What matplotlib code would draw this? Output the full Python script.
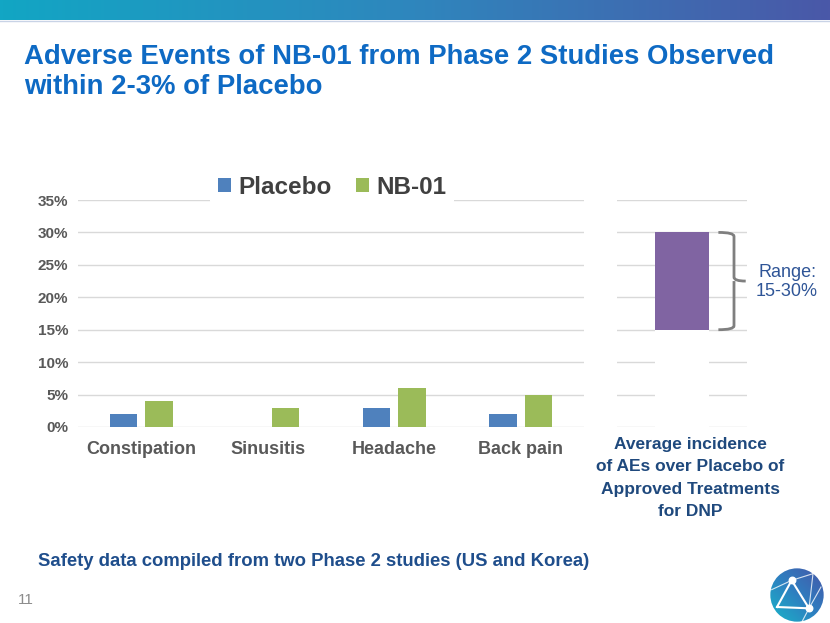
import numpy as np
import matplotlib
matplotlib.use('Agg')
import matplotlib.pyplot as plt
from matplotlib.colors import LinearSegmentedColormap
from matplotlib.path import Path
from matplotlib.patches import PathPatch, Circle
from matplotlib.transforms import blended_transform_factory

# data
categories = ['Constipation', 'Sinusitis', 'Headache', 'Back pain']
placebo = [0.02, 0.0, 0.03, 0.02]
nb01 = [0.04, 0.03, 0.06, 0.05]
range_low = 0.15
range_high = 0.30
yticks = [0, 0.05, 0.10, 0.15, 0.20, 0.25, 0.30, 0.35]
ytick_labels = ['0%', '5%', '10%', '15%', '20%', '25%', '30%', '35%']

W, H = 830, 623
plt.rcParams['font.family'] = ['Liberation Sans', 'DejaVu Sans']
fig = plt.figure(figsize=(W / 100, H / 100), dpi=100)


def px(x0, y0, x1, y1):
    """pixel box -> figure fraction rect"""
    return [x0 / W, 1 - y1 / H, (x1 - x0) / W, (y1 - y0) / H]


# top banner
ban = fig.add_axes(px(0, 0, W, 20))
cmap = LinearSegmentedColormap.from_list('ban', ['#12A6C4', '#2F86BD', '#4A58A8'])
ban.imshow(np.linspace(0, 1, 256)[None, :], aspect='auto', cmap=cmap)
ban.axis('off')
fig.add_artist(plt.Line2D([0, 1], [1 - 21 / H, 1 - 21 / H], color='#C9D3E6', lw=1))

# title
title_lines = ['Adverse Events of NB-01 from Phase 2 Studies Observed', 'within 2-3% of Placebo']
for i, line in enumerate(title_lines):
    fig.text(24 / W, 1 - (57 + 30 * i) / H, line, ha='left', va='center',
             fontsize=19.8, fontweight='bold', color='#0E6AC4')

# main chart
grey = '#595959'
ax = fig.add_axes(px(78, 200, 584, 427))
x = np.arange(len(categories))
bw = 0.22
ax.bar(x - 0.14, placebo, bw, color='#4F81BD', label='Placebo', zorder=3)
ax.bar(x + 0.14, nb01, bw, color='#9BBB59', label='NB-01', zorder=3)
ax.set_xlim(-0.5, len(categories) - 0.5)
ax.set_ylim(0, 0.35)
ax.set_yticks(yticks)
ax.set_yticklabels(ytick_labels)
ax.set_xticks(x)
ax.set_xticklabels(categories)
ax.yaxis.grid(True, color='#D9D9D9', lw=1, zorder=0)
ax.set_axisbelow(True)
for s in ax.spines.values():
    s.set_visible(False)
ax.tick_params(length=0)
ax.tick_params(axis='y', pad=7, labelsize=11, labelcolor=grey)
ax.tick_params(axis='x', pad=10, labelsize=13, labelcolor=grey)
for lab in ax.get_xticklabels() + ax.get_yticklabels():
    lab.set_fontweight('bold')
leg = ax.legend(loc='center', bbox_to_anchor=((332 - 78) / 506, (427 - 187) / 227), ncol=2,
                frameon=True, framealpha=1, facecolor='white', edgecolor='none',
                prop={'weight': 'bold', 'size': 17.5}, handlelength=0.55, handleheight=0.55,
                handletextpad=0.3, columnspacing=1.0, borderpad=0.3)
for t in leg.get_texts():
    t.set_color('#404040')

# right panel
ax2 = fig.add_axes(px(617, 200, 747, 427))
ax2.set_xlim(-0.5, 0.5)
ax2.set_ylim(0, 0.35)
ax2.set_yticks(yticks)
ax2.yaxis.grid(True, color='#D9D9D9', lw=1, zorder=0)
ax2.set_axisbelow(True)
ax2.bar([0], [range_low], 0.41, color='white', zorder=2)
ax2.bar([0], [range_high - range_low], 0.41, bottom=[range_low], color='#8064A2', zorder=3)
ax2.set_xticks([])
ax2.tick_params(length=0, labelleft=False)
for s in ax2.spines.values():
    s.set_visible(False)

# brace
tr = blended_transform_factory(ax2.transAxes, ax2.transData)
mid = (range_low + range_high) / 2
xa, xb, xc = 0.78, 0.9, 0.99
d = 0.006
verts = [(xa, range_high), (xb, range_high), (xb, range_high - d),
         (xb, mid + d), (xb, mid), (xc, mid),
         (xb, mid), (xb, mid - d),
         (xb, range_low + d), (xb, range_low), (xa, range_low)]
codes = [Path.MOVETO, Path.CURVE3, Path.CURVE3,
         Path.LINETO, Path.CURVE3, Path.CURVE3,
         Path.MOVETO, Path.LINETO,
         Path.LINETO, Path.CURVE3, Path.CURVE3]
ax2.add_patch(PathPatch(Path(verts, codes), transform=tr, fill=False,
                        edgecolor='#7F7F7F', lw=2, clip_on=False, zorder=4))
fig.text(787 / W, 1 - 282 / H, 'Range:\n15-30%', ha='center', va='center',
         fontsize=13, color='#2F5597', linespacing=1.2)

fig.text(690 / W, 1 - 478 / H, 'Average incidence\nof AEs over Placebo of\nApproved Treatments\nfor DNP',
         ha='center', va='center', fontsize=12.5, fontweight='bold', color='#1F497D',
         linespacing=1.6)

# footer
fig.text(38 / W, 1 - 562 / H, 'Safety data compiled from two Phase 2 studies (US and Korea)',
         ha='left', va='center', fontsize=13.3, fontweight='bold', color='#1F4E8C')
fig.text(18 / W, 1 - 600 / H, '11', ha='left', va='center', fontsize=11, color='#8C8C8C')

# logo
lg = fig.add_axes(px(768, 567, 826, 623))
lg.set_xlim(-1.05, 1.05)
lg.set_ylim(-1.05, 1.05)
lg.set_aspect('equal')
lg.axis('off')
lcmap = LinearSegmentedColormap.from_list('lg', ['#19B5C9', '#2E7FC0', '#4656A8'])
g = np.add.outer(np.linspace(1, 0, 100), np.linspace(0, 1, 100)) / 2
im = lg.imshow(g, extent=[-1, 1, -1, 1], cmap=lcmap, origin='upper')
im.set_clip_path(Circle((0, 0), 1, transform=lg.transData))
pts = {'a': (-0.2, 0.55), 'b': (0.45, -0.5), 'c': (-0.75, -0.45)}
for p, q in [('a', 'b'), ('a', 'c'), ('c', 'b')]:
    lg.plot([pts[p][0], pts[q][0]], [pts[p][1], pts[q][1]], color='white', lw=1.5)
for xs, ys in [((-0.2, 0.6), (0.55, 0.8)), ((-0.2, -0.95), (0.55, 0.2)), ((0.45, 0.9), (-0.5, 0.3)),
               ((0.45, 0.2), (-0.5, -0.98)), ((0.6, 0.45), (0.8, -0.5))]:
    lg.plot(xs, ys, color='white', lw=0.8, alpha=0.8)
lg.scatter([pts['a'][0], pts['b'][0]], [pts['a'][1], pts['b'][1]], s=22, color='white', zorder=5)

fig.savefig('out.png', dpi=100)
